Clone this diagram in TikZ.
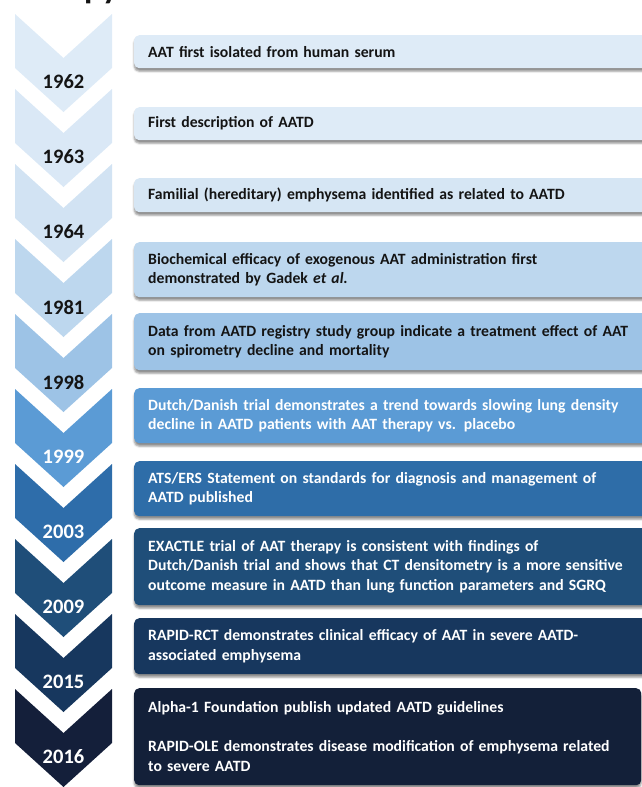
\documentclass[tikz,border=0pt]{standalone}
\usepackage{fontspec}
\setmainfont{Carlito}
\usetikzlibrary{shadows.blur}

% chevron fills, lightest to darkest
\definecolor{ch0}{HTML}{DEEBF7}
\definecolor{ch1}{HTML}{DAE8F6}
\definecolor{ch2}{HTML}{D2E3F3}
\definecolor{ch3}{HTML}{BDD7EE}
\definecolor{ch4}{HTML}{9DC3E6}
\definecolor{ch5}{HTML}{5B9BD5}
\definecolor{ch6}{HTML}{2E6DAA}
\definecolor{ch7}{HTML}{1F4E79}
\definecolor{ch8}{HTML}{17375E}
\definecolor{ch9}{HTML}{141F3A}
% event box fills
\definecolor{bx1}{HTML}{DEEBF7}
\definecolor{bx2}{HTML}{DEEBF7}
\definecolor{bx3}{HTML}{D6E6F4}
\definecolor{bx4}{HTML}{BDD7EE}
\definecolor{bx5}{HTML}{9DC3E6}
\definecolor{bx6}{HTML}{5B9BD5}
\definecolor{bx7}{HTML}{2E6DA8}
\definecolor{bx8}{HTML}{1F4E79}
\definecolor{bx9}{HTML}{17375E}
\definecolor{bx10}{HTML}{132039}
\definecolor{ink}{HTML}{141414}

\begin{document}
\begin{tikzpicture}[x=1pt,y=-1pt,
  yearlabel/.style={font=\fontsize{20.5}{24}\selectfont\bfseries, inner sep=0pt},
  eventbox/.style={rounded corners=5pt, anchor=north west, inner xsep=14pt,
    inner ysep=0pt, align=left, font=\fontsize{15.7}{19.5}\selectfont\bfseries,
    blur shadow={shadow xshift=0pt, shadow yshift=-3pt,
      shadow blur radius=2pt, shadow opacity=45}},
  darkbox/.style={eventbox, text=ink},
  lightbox/.style={eventbox, text=white}]

\useasboundingbox (0,0) rectangle (642,787);
\clip (0,0) rectangle (642,787);

% heading, running off the top edge
\node[font=\fontsize{34}{34}\selectfont\bfseries, anchor=base west,
  inner sep=0pt, text=ink] (title) at (84,-1.5) {py};

% year chevrons
\foreach \i/\yr/\tc in {0/1962/ink,1/1963/ink,2/1964/ink,3/1981/ink,4/1998/ink,
                        5/1999/white,6/2003/white,7/2009/white,8/2015/white,9/2016/white}{
  \pgfmathsetmacro\t{14+75*\i}
  \fill[ch\i] (15,\t) -- (63.5,\t+44) -- (112,\t) -- (112,\t+54)
        -- (63.5,\t+98) -- (15,\t+54) -- cycle;
  \node[yearlabel, text=\tc] (yr\i) at (63.5,\t+68) {\yr};
}

% event boxes
\node[darkbox, fill=bx1, minimum height=33pt, text width=500pt] (e1) at (134,35)
  {AAT first isolated from human serum};
\node[darkbox, fill=bx2, minimum height=33pt, text width=500pt] (e2) at (134,107)
  {First description of AATD};
\node[darkbox, fill=bx3, minimum height=34pt, text width=500pt] (e3) at (134,178)
  {Familial (hereditary) emphysema identified as related to AATD};
\node[darkbox, fill=bx4, minimum height=55pt, text width=500pt] (e4) at (134,242)
  {Biochemical efficacy of exogenous AAT administration first\\
   demonstrated by Gadek \textit{et al.}};
\node[darkbox, fill=bx5, minimum height=57pt, text width=500pt] (e5) at (134,313)
  {Data from AATD registry study group indicate a treatment effect of AAT\\
   on spirometry decline and mortality};
\node[lightbox, fill=bx6, minimum height=55pt, text width=500pt] (e6) at (134,388)
  {Dutch/Danish trial demonstrates a trend towards slowing lung density\\
   decline in AATD patients with AAT therapy vs. placebo};
\node[lightbox, fill=bx7, minimum height=55pt, text width=500pt] (e7) at (134,461)
  {ATS/ERS Statement on standards for diagnosis and management of\\
   AATD published};
\node[lightbox, fill=bx8, minimum height=77pt, text width=500pt] (e8) at (134,528)
  {EXACTLE trial of AAT therapy is consistent with findings of\\
   Dutch/Danish trial and shows that CT densitometry is a more sensitive\\
   outcome measure in AATD than lung function parameters and SGRQ};
\node[lightbox, fill=bx9, minimum height=56pt, text width=500pt] (e9) at (134,618)
  {RAPID-RCT demonstrates clinical efficacy of AAT in severe AATD-\\
   associated emphysema};
\node[lightbox, fill=bx10, minimum height=97pt, text width=479pt] (e10) at (134,688)
  {Alpha-1 Foundation publish updated AATD guidelines\\[19.5pt]
   RAPID-OLE demonstrates disease modification of emphysema related\\
   to severe AATD};
\end{tikzpicture}
\end{document}
